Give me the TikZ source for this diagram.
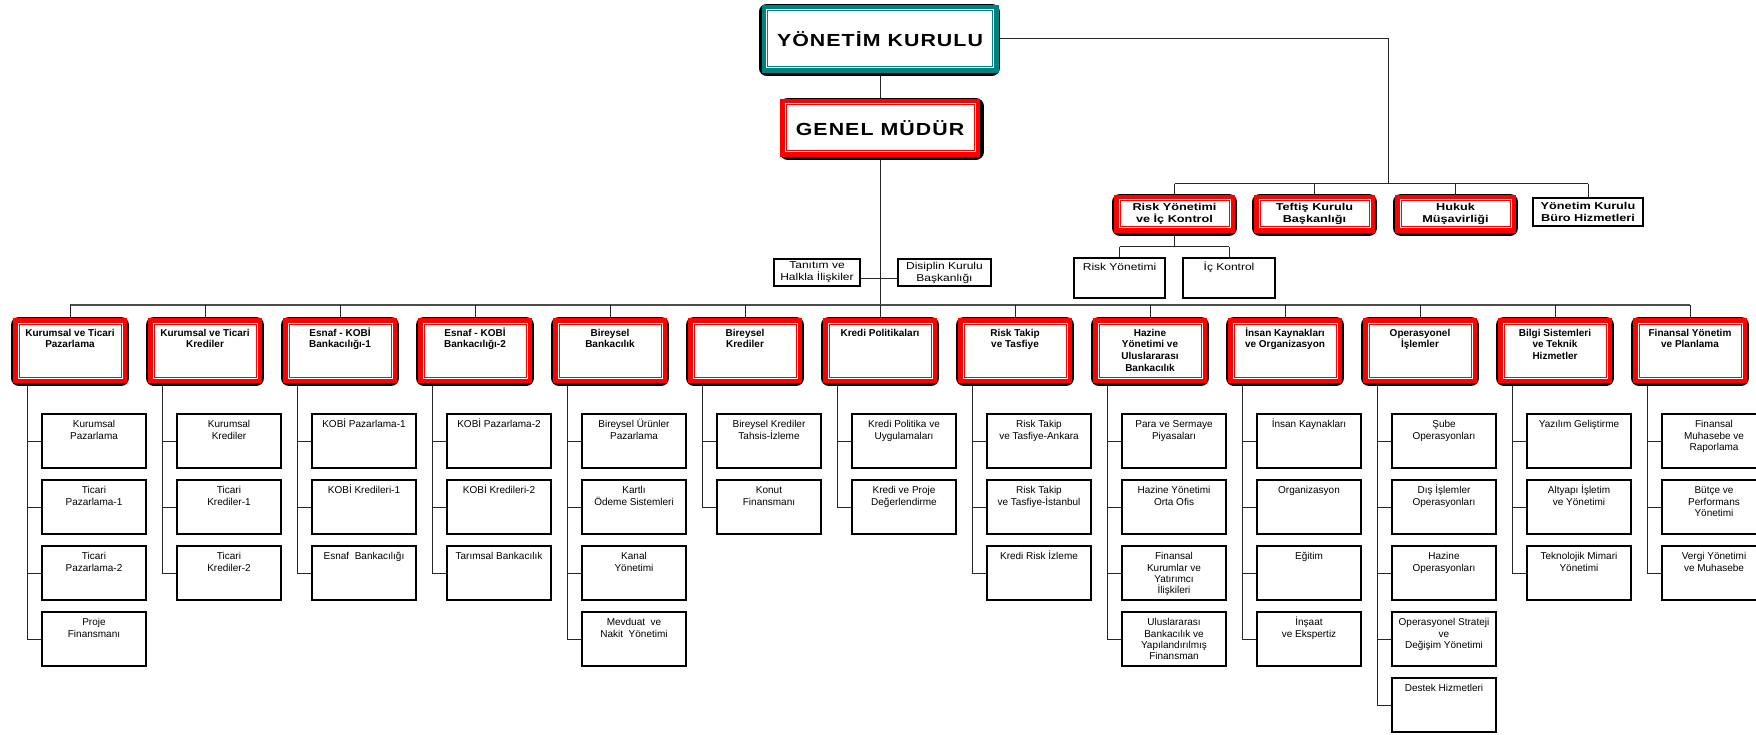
\documentclass[tikz,border=0pt]{standalone}
\usepackage{fontspec}
\setmainfont{Liberation Sans}
\newfontfamily\ykfont[FakeStretch=1.22,LetterSpace=6]{Liberation Sans}
\newfontfamily\lsbold[FakeStretch=1.27]{Liberation Sans}
\newfontfamily\lsreg[FakeStretch=1.2]{Liberation Sans}
\definecolor{redA}{RGB}{255,0,0}
\definecolor{tealA}{RGB}{0,128,128}
\pgfdeclarelayer{bg}
\pgfdeclarelayer{lines}
\pgfsetlayers{bg,lines,main}
\tikzset{
  framed/.style n args={3}{fill=white, draw=#1, line width=1pt, inner sep=0pt, outer sep=0pt,
    preaction={draw=black, line width=16pt, line join=round, transform canvas={shift={(#2,#3)}}},
    preaction={draw=#1, line width=12pt},
    preaction={draw=white, line width=3pt}},
  ltwo/.style={framed={redA}{0}{1}, font=\bfseries\fontsize{10}{11.7}\selectfont},
  lone/.style={framed={redA}{0}{1}, font=\lsbold\bfseries\fontsize{10}{12}\selectfont,
    align=center, minimum width=109pt, minimum height=26pt},
  gmbox/.style={framed={redA}{1.5}{1}, font=\ykfont\bfseries\fontsize{17.5}{20}\selectfont,
    align=center, minimum width=188pt, minimum height=46pt},
  ykbox/.style={framed={tealA}{-1}{1}, font=\ykfont\bfseries\fontsize{17.5}{20}\selectfont,
    align=center, minimum width=225pt, minimum height=56pt},
  plainbox/.style={draw=black, line width=2pt, fill=white, inner sep=0pt},
  lthree/.style={plainbox, font=\fontsize{10}{11.3}\selectfont},
  conn/.style={draw=black!85, line width=1pt},
  busline/.style={draw=black!70, line width=2pt}
}
\newcommand\mktwo[3]{\node[ltwo] (#1) at (#2,350.5) {\parbox[c][53pt][t]{102pt}{\centering\rule{0pt}{12.2pt}#3}};}
\newcommand\mkthree[4]{\node[lthree] (#1) at (#2,#3) {\parbox[c][54pt][t]{104pt}{\centering\rule{0pt}{13.7pt}#4}};}
\begin{document}
\begin{tikzpicture}[x=1pt,y=-1pt]
\begin{pgfonlayer}{bg}
\fill[white] (0,0) rectangle (1756,735);
\end{pgfonlayer}
\useasboundingbox (0,0) rectangle (1756,735);

% top
\node[ykbox] (yk) at (880,39) {Y\"ONET\.IM KURULU};
\node[gmbox] (gm) at (880,128) {GENEL M\"UD\"UR};

\node[lone] (risk) at (1174.5,214) {Risk Yönetimi\\ve İç Kontrol};
\node[lone] (teftis) at (1314.5,214) {Teftiş Kurulu\\Başkanlığı};
\node[lone] (hukuk) at (1455.5,214) {Hukuk\\Müşavirliği};
\node[plainbox, font=\lsbold\bfseries\fontsize{10}{12}\selectfont, align=center,
  minimum width=110pt, minimum height=28pt] (buro) at (1588,212) {Yönetim Kurulu\\Büro Hizmetleri};

\node[plainbox, font=\lsreg\fontsize{10}{11.5}\selectfont] (rysub) at (1119.5,278)
  {\parbox[c][40pt][t]{91pt}{\centering\rule{0pt}{12.5pt}Risk Yönetimi}};
\node[plainbox, font=\lsreg\fontsize{10}{11.5}\selectfont] (icsub) at (1229,278)
  {\parbox[c][40pt][t]{92pt}{\centering\rule{0pt}{12.5pt}İç Kontrol}};

\node[plainbox, font=\lsreg\fontsize{10}{12}\selectfont, align=center,
  minimum width=86pt, minimum height=27pt] (tanitim) at (817,272.5) {Tanıtım ve\\Halkla İlişkiler};
\node[plainbox, font=\lsreg\fontsize{10}{12}\selectfont, align=center,
  minimum width=93pt, minimum height=27pt] (disiplin) at (944.5,272.5) {Disiplin Kurulu\\Başkanlığı};

% level 2
\mktwo{c1}{70}{Kurumsal ve Ticari\\Pazarlama}
\mktwo{c2}{205}{Kurumsal ve Ticari\\Krediler}
\mktwo{c3}{340}{Esnaf - KOBİ\\Bankacılığı-1}
\mktwo{c4}{475}{Esnaf - KOBİ\\Bankacılığı-2}
\mktwo{c5}{610}{Bireysel\\Bankacılık}
\mktwo{c6}{745}{Bireysel\\Krediler}
\mktwo{c7}{880}{Kredi Politikaları}
\mktwo{c8}{1015}{Risk Takip\\ve Tasfiye}
\mktwo{c9}{1150}{Hazine\\Yönetimi ve\\Uluslararası\\Bankacılık}
\mktwo{c10}{1285}{İnsan Kaynakları\\ve Organizasyon}
\mktwo{c11}{1420}{Operasyonel\\İşlemler}
\mktwo{c12}{1555}{Bilgi Sistemleri\\ve Teknik\\Hizmetler}
\mktwo{c13}{1690}{Finansal Yönetim\\ve Planlama}

% level 3
\mkthree{c1a}{94}{441}{Kurumsal\\Pazarlama}
\mkthree{c1b}{94}{507}{Ticari\\Pazarlama-1}
\mkthree{c1c}{94}{573}{Ticari\\Pazarlama-2}
\mkthree{c1d}{94}{639}{Proje\\Finansmanı}

\mkthree{c2a}{229}{441}{Kurumsal\\Krediler}
\mkthree{c2b}{229}{507}{Ticari\\Krediler-1}
\mkthree{c2c}{229}{573}{Ticari\\Krediler-2}

\mkthree{c3a}{364}{441}{KOBİ Pazarlama-1}
\mkthree{c3b}{364}{507}{KOBİ Kredileri-1}
\mkthree{c3c}{364}{573}{Esnaf\ \ Bankacılığı}

\mkthree{c4a}{499}{441}{KOBİ Pazarlama-2}
\mkthree{c4b}{499}{507}{KOBİ Kredileri-2}
\mkthree{c4c}{499}{573}{Tarımsal Bankacılık}

\mkthree{c5a}{634}{441}{Bireysel Ürünler\\Pazarlama}
\mkthree{c5b}{634}{507}{Kartlı\\Ödeme Sistemleri}
\mkthree{c5c}{634}{573}{Kanal\\Yönetimi}
\mkthree{c5d}{634}{639}{Mevduat\ \ ve\\Nakit\ \ Yönetimi}

\mkthree{c6a}{769}{441}{Bireysel Krediler\\Tahsis-İzleme}
\mkthree{c6b}{769}{507}{Konut\\Finansmanı}

\mkthree{c7a}{904}{441}{Kredi Politika ve\\Uygulamaları}
\mkthree{c7b}{904}{507}{Kredi ve Proje\\Değerlendirme}

\mkthree{c8a}{1039}{441}{Risk Takip\\ve Tasfiye-Ankara}
\mkthree{c8b}{1039}{507}{Risk Takip\\ve Tasfiye-İstanbul}
\mkthree{c8c}{1039}{573}{Kredi Risk İzleme}

\mkthree{c9a}{1174}{441}{Para ve Sermaye\\Piyasaları}
\mkthree{c9b}{1174}{507}{Hazine Yönetimi\\Orta Ofis}
\mkthree{c9c}{1174}{573}{Finansal\\Kurumlar ve\\Yatırımcı\\İlişkileri}
\mkthree{c9d}{1174}{639}{Uluslararası\\Bankacılık ve\\Yapılandırılmış\\Finansman}

\mkthree{c10a}{1309}{441}{İnsan Kaynakları}
\mkthree{c10b}{1309}{507}{Organizasyon}
\mkthree{c10c}{1309}{573}{Eğitim}
\mkthree{c10d}{1309}{639}{İnşaat\\ve Ekspertiz}

\mkthree{c11a}{1444}{441}{Şube\\Operasyonları}
\mkthree{c11b}{1444}{507}{Dış İşlemler\\Operasyonları}
\mkthree{c11c}{1444}{573}{Hazine\\Operasyonları}
\mkthree{c11d}{1444}{639}{Operasyonel Strateji\\ve\\Değişim Yönetimi}
\mkthree{c11e}{1444}{705}{Destek Hizmetleri}

\mkthree{c12a}{1579}{441}{Yazılım Geliştirme}
\mkthree{c12b}{1579}{507}{Altyapı İşletim\\ve Yönetimi}
\mkthree{c12c}{1579}{573}{Teknolojik Mimari\\Yönetimi}

\mkthree{c13a}{1714}{441}{Finansal\\Muhasebe ve\\Raporlama}
\mkthree{c13b}{1714}{507}{Bütçe ve\\Performans\\Yönetimi}
\mkthree{c13c}{1714}{573}{Vergi Yönetimi\\ve Muhasebe}

% helper coordinates
\coordinate (hub) at (1388,184);
\coordinate (rhub) at (1174.5,247);
\coordinate (tdy) at (880,279);
\coordinate (bus) at (880,305);
\foreach \i/\x in {1/70,2/205,3/340,4/475,5/610,6/745,7/880,8/1015,9/1150,10/1285,11/1420,12/1555,13/1690}
  \coordinate (s\i) at (\x-43,380);

\begin{pgfonlayer}{lines}
\draw[conn] (yk.south) -- (gm.north);
\draw[conn] (gm.south) -- (c7.north);
\draw[conn] (yk.east) -| (hub);
\draw[conn] (risk.north |- hub) -- (buro.north |- hub);
\foreach \n in {risk,teftis,hukuk,buro} \draw[conn] (\n.north |- hub) -- (\n.north);
\draw[conn] (risk.south) -- (rhub);
\draw[conn] (rysub.north |- rhub) -- (icsub.north |- rhub);
\draw[conn] (rysub.north |- rhub) -- (rysub.north);
\draw[conn] (icsub.north |- rhub) -- (icsub.north);
\draw[conn] (tanitim.east |- tdy) -- (disiplin.west |- tdy);
\draw[busline] (c1.north |- bus) -- (c13.north |- bus);
\foreach \i in {1,...,13} \draw[conn] (c\i.north |- bus) -- (c\i.north);
\foreach \p/\kids in {1/{a,b,c,d},2/{a,b,c},3/{a,b,c},4/{a,b,c},5/{a,b,c,d},6/{a,b},7/{a,b},
    8/{a,b,c},9/{a,b,c,d},10/{a,b,c,d},11/{a,b,c,d,e},12/{a,b,c},13/{a,b,c}}
  \foreach \k in \kids
    \draw[conn] (s\p |- c\p.south) |- (c\p\k.west);
\end{pgfonlayer}
\end{tikzpicture}
\end{document}
